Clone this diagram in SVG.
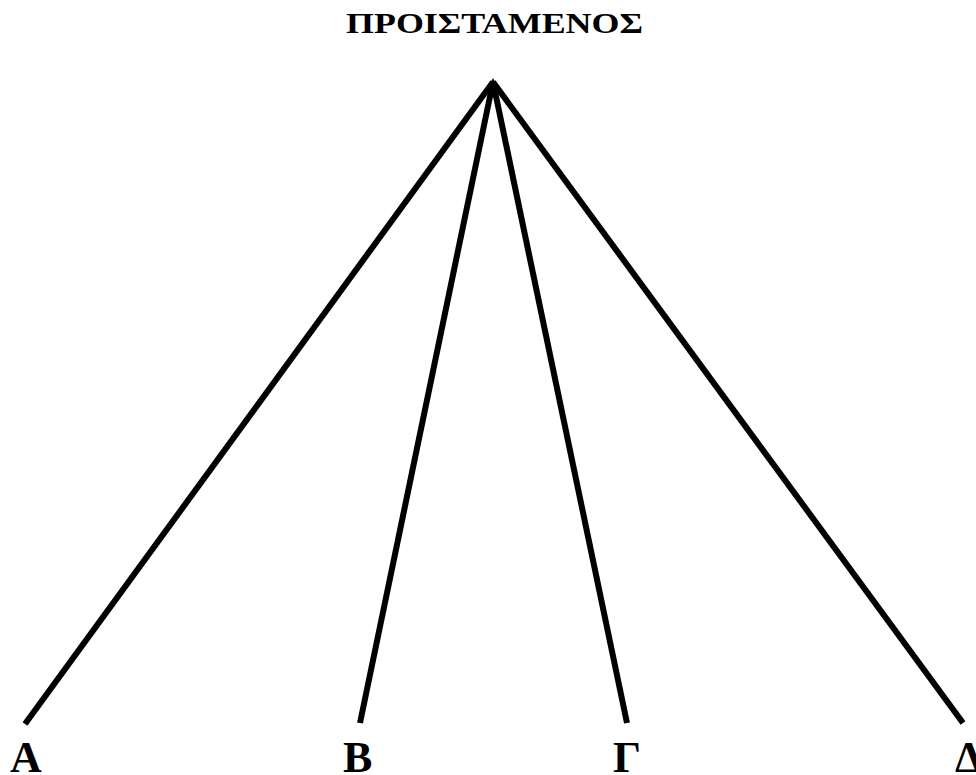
<svg xmlns="http://www.w3.org/2000/svg" width="976" height="775" viewBox="0 0 976 775">
<style>
.lbl{font-family:"Liberation Serif","Times New Roman",serif;font-weight:bold;fill:#000}
.ln{stroke:#000;stroke-width:6;stroke-linecap:butt;fill:none}
</style>
<rect width="976" height="775" fill="#fff"/>
<g id="node-proistamenos"><text class="lbl" x="346" y="33" font-size="30" textLength="297" lengthAdjust="spacingAndGlyphs">ΠΡΟΙΣΤΑΜΕΝΟΣ</text></g>
<g id="connectors">
<line class="ln" x1="493" y1="82" x2="25" y2="724"/>
<line class="ln" x1="493" y1="82" x2="360" y2="723"/>
<line class="ln" x1="493" y1="82" x2="627" y2="723"/>
<line class="ln" x1="493" y1="82" x2="963" y2="723"/>
<polygon points="493,78 486,92 500,92" fill="#000"/>
</g>
<g id="node-a"><text class="lbl" x="10" y="772" font-size="44">Α</text></g>
<g id="node-b"><text class="lbl" x="343" y="772" font-size="44">Β</text></g>
<g id="node-g"><text class="lbl" x="613" y="772" font-size="44">Γ</text></g>
<g id="node-d"><text class="lbl" x="955" y="772" font-size="44">Δ</text></g>
</svg>
